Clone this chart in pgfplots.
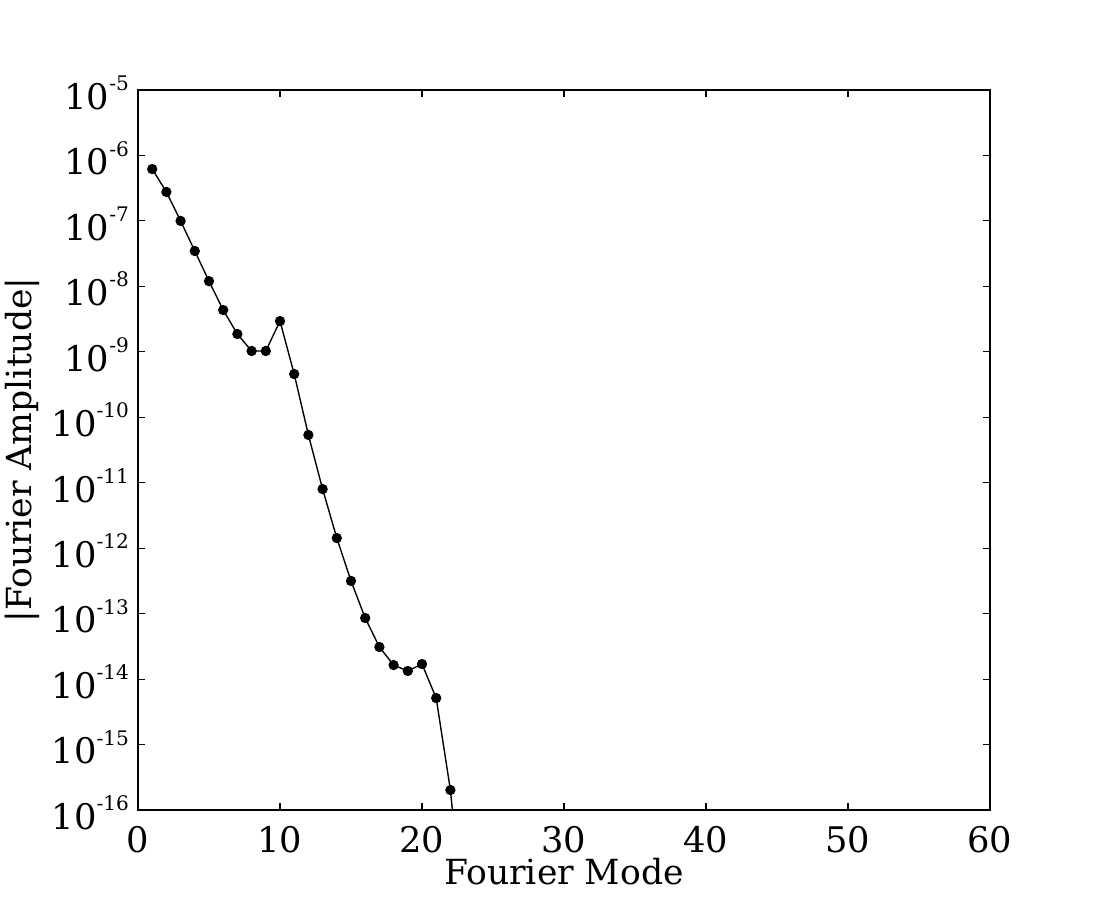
\documentclass[border=0pt]{standalone}
\usepackage{fontspec}
\setmainfont{DejaVu Serif}
\usepackage{pgfplots}
\pgfplotsset{compat=1.18}
\newcommand{\tenpow}[1]{10\raisebox{13.5pt}{\fontsize{14.5}{14.5}\selectfont #1}}

\begin{document}
\fontsize{25}{30}\selectfont
\begin{tikzpicture}
\path[use as bounding box] (-1.38in,-0.9in) rectangle (9.62in,8.1in);
\begin{axis}[
  at={(0,0)}, anchor=south west,
  scale only axis,
  width=8.52in, height=7.2in,
  ymode=log,
  xmin=0, xmax=60,
  ymin=1e-16, ymax=1e-5,
  xtick={0,10,20,30,40,50,60},
  xticklabels={0,10,20,30,40,50,60},
  ytick={1e-16,1e-15,1e-14,1e-13,1e-12,1e-11,1e-10,1e-9,1e-8,1e-7,1e-6,1e-5},
  yticklabels={\tenpow{-16},\tenpow{-15},\tenpow{-14},\tenpow{-13},\tenpow{-12},\tenpow{-11},\tenpow{-10},\tenpow{-9},\tenpow{-8},\tenpow{-7},\tenpow{-6},\tenpow{-5}},
  minor tick num=0,
  tick align=inside,
  ticks=major,
  major tick length=0.07in,
  tick style={black, line width=0.8pt},
  axis line style={line width=0.9pt},
  xticklabel style={font=\fontsize{25.5}{30}\selectfont, yshift=-3pt},
  yticklabel style={font=\fontsize{25.5}{30}\selectfont, xshift=2pt, yshift=-2pt},
  xlabel={Fourier Mode},
  ylabel={|Fourier Amplitude|},
  xlabel style={font=\fontsize{25}{30}\selectfont, at={(axis description cs:0.5,-0.086)}, anchor=center},
  ylabel style={font=\fontsize{25}{30}\selectfont, at={(axis description cs:-0.136,0.5)}, anchor=center, rotate=0},
  clip=true,
]
\addplot[black, line width=1pt, mark=*, mark size=3.2pt, mark options={fill=black}] coordinates {
  (1,6.2e-7) (2,2.77e-7) (3,1.0e-7) (4,3.47e-8) (5,1.2e-8)
  (6,4.35e-9) (7,1.87e-9) (8,1.03e-9) (9,1.03e-9) (10,2.95e-9)
  (11,4.58e-10) (12,5.37e-11) (13,8.0e-12) (14,1.43e-12) (15,3.16e-13)
  (16,8.57e-14) (17,3.09e-14) (18,1.64e-14) (19,1.33e-14) (20,1.70e-14)
  (21,5.13e-15) (22,2.02e-16) (23,1.4e-18)
};
\end{axis}
\end{tikzpicture}
\end{document}
